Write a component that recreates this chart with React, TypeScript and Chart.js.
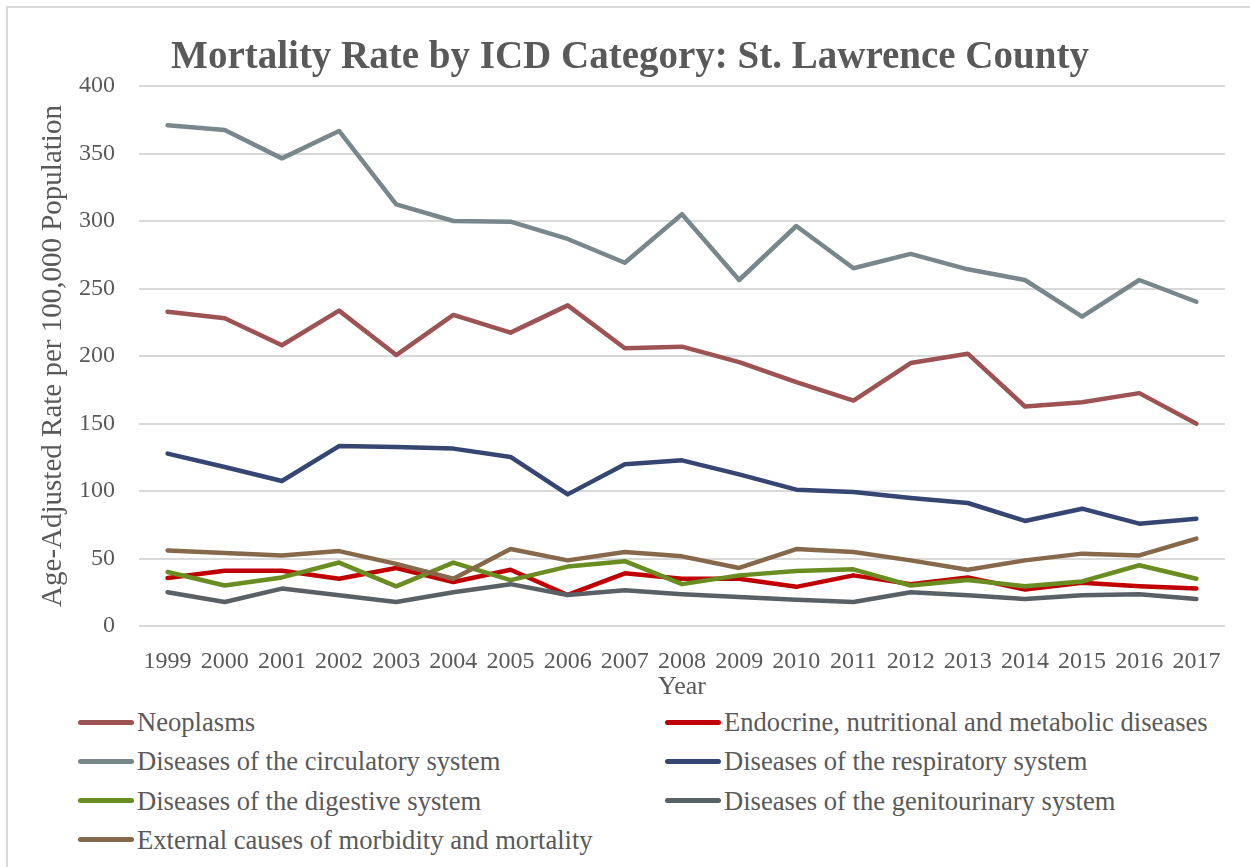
import React, { useEffect, useRef } from "react";
import { Chart, registerables } from "chart.js";

Chart.register(...registerables);

const years = ["1999","2000","2001","2002","2003","2004","2005","2006","2007","2008","2009","2010","2011","2012","2013","2014","2015","2016","2017"];

const neoplasms = [232.8,227.9,208,233.6,200.7,230.4,217.3,237.5,205.7,206.9,195.5,180.7,167,194.8,201.7,162.6,165.8,172.5,149.8];
const endocrine = [35.6,41,41,35,43,32.6,41.7,23,39,35,35,29,37.5,31,36,27,32,29.4,27.7];
const circulatory = [371,367.4,346.4,366.7,312.3,300,299.5,286.7,269.1,305,256.3,296.3,265,275.6,264.2,256.3,229.1,256.3,240.2];
const respiratory = [127.7,117.8,107.4,133.3,132.6,131.4,125.2,97.5,119.8,122.7,112.3,101,99.3,94.8,91.1,77.8,86.9,75.8,79.5];
const digestive = [40,30,36,47,29.4,47,34,44,48,31,37.5,40.7,42,30,34,29.4,33,45,35];
const genitourinary = [25,17.8,27.7,22.7,17.8,25,31,23,26.4,23.5,21.5,19.5,17.8,25,22.7,20,22.7,23.5,20];
const external = [56,54,52.3,55.5,46,35,57,48.6,54.8,51.6,43,57,54.8,48.6,41.7,48.6,53.6,52.3,64.7];

const seriesNames = [
  "Neoplasms",
  "Endocrine, nutritional and metabolic diseases",
  "Diseases of the circulatory system",
  "Diseases of the respiratory system",
  "Diseases of the digestive system",
  "Diseases of the genitourinary system",
  "External causes of morbidity and mortality",
];
const seriesValues = [neoplasms, endocrine, circulatory, respiratory, digestive, genitourinary, external];
const seriesColors = ["#9E5353", "#C00000", "#78878B", "#354672", "#6A8D22", "#5A6166", "#86684A"];

const yTicks = [0, 50, 100, 150, 200, 250, 300, 350, 400];

const TEXT = "#595959";
const SERIF = "'Liberation Serif', 'DejaVu Serif', serif";

export default function App() {
  const ref = useRef<HTMLCanvasElement | null>(null);

  useEffect(() => {
    const canvas = ref.current;
    if (!canvas) return;
    const chart = new Chart(canvas, {
      type: "line",
      data: {
        labels: years,
        datasets: seriesNames.map((name, i) => ({
          label: name,
          data: seriesValues[i],
          borderColor: seriesColors[i],
          backgroundColor: seriesColors[i],
          borderWidth: 4.5,
          pointRadius: 0,
          pointHoverRadius: 0,
          tension: 0,
          borderJoinStyle: "round" as const,
          borderCapStyle: "round" as const,
          order: seriesNames.length - i,
        })),
      },
      options: {
        responsive: false,
        animation: false,
        devicePixelRatio: 1,
        layout: { padding: { left: 35, right: 25, top: 0, bottom: 0 } },
        plugins: {
          legend: { display: false },
          tooltip: { enabled: false },
          title: {
            display: true,
            text: "Mortality Rate by ICD Category: St. Lawrence County",
            color: TEXT,
            font: { family: SERIF, size: 39, weight: "bold" },
            padding: { top: 34.6, bottom: 4.6 },
          },
        },
        scales: {
          x: {
            type: "category",
            offset: true,
            grid: { display: false, drawTicks: false },
            border: { display: false },
            ticks: {
              color: TEXT,
              font: { family: SERIF, size: 24 },
              maxRotation: 0,
              minRotation: 0,
              autoSkip: false,
              padding: 21,
            },
            title: {
              display: true,
              text: "Year",
              color: TEXT,
              font: { family: SERIF, size: 26 },
              padding: { top: 0, bottom: 0 },
            },
            afterFit: (scale: any) => {
              scale.height = 77;
            },
          },
          y: {
            min: 0,
            max: 400,
            afterBuildTicks: (scale: any) => {
              scale.ticks = yTicks.map((v) => ({ value: v }));
            },
            grid: { color: "#D9D9D9", lineWidth: 2, drawTicks: false },
            border: { display: false },
            ticks: {
              color: TEXT,
              font: { family: SERIF, size: 24 },
              padding: 24,
              callback: (v: any) => String(v),
            },
            title: {
              display: true,
              text: "Age-Adjusted Rate per 100,000 Population",
              color: TEXT,
              font: { family: SERIF, size: 29 },
              padding: { top: 1.4, bottom: 0 },
            },
            afterFit: (scale: any) => {
              scale.width = 104;
            },
          },
        },
      },
    });
    return () => chart.destroy();
  }, []);

  const rowY = [722, 761, 800.5, 839.5];
  const colX = [78, 665];

  return (
    <div
      style={{
        position: "fixed",
        left: 0,
        top: 0,
        width: 1250,
        height: 867,
        background: "#fff",
        overflow: "hidden",
        fontFamily: SERIF,
      }}
    >
      <div
        style={{
          position: "absolute",
          left: 6,
          top: 6,
          width: 1400,
          height: 1000,
          borderLeft: "2px solid #D9D9D9",
          borderTop: "2px solid #D9D9D9",
        }}
      />
      <canvas ref={ref} width={1250} height={703} style={{ position: "absolute", left: 0, top: 0, width: 1250, height: 703 }} />
      {seriesNames.map((name, i) => {
        const col = i % 2;
        const row = Math.floor(i / 2);
        return (
          <div
            key={name}
            style={{
              position: "absolute",
              left: colX[col],
              top: rowY[row] - 18,
              height: 36,
              display: "flex",
              alignItems: "center",
              whiteSpace: "nowrap",
            }}
          >
            <span
              style={{
                display: "inline-block",
                width: 56,
                height: 5,
                borderRadius: 3,
                background: seriesColors[i],
                marginRight: 3,
              }}
            />
            <span style={{ color: TEXT, fontSize: 26.6, lineHeight: "36px" }}>{name}</span>
          </div>
        );
      })}
    </div>
  );
}
